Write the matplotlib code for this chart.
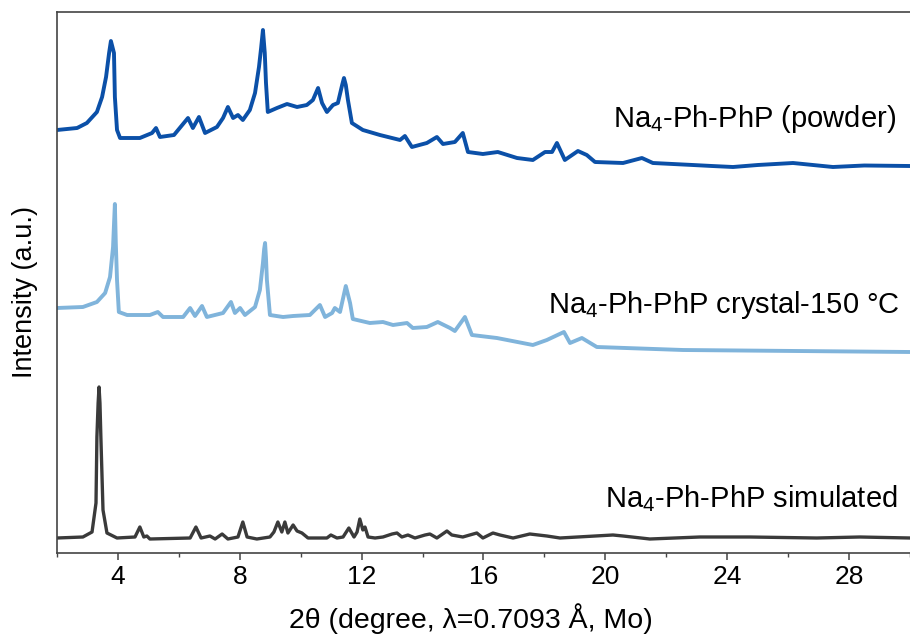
import matplotlib
matplotlib.use('Agg')
import matplotlib.pyplot as plt
from matplotlib.ticker import MultipleLocator

# 2theta (deg) and intensity (a.u.) for each pattern, offsets applied at plot time
powder_2theta = [2.00, 2.66, 2.98, 3.31, 3.48, 3.61, 3.71, 3.77, 3.87, 3.90, 3.97, 4.07, 4.72,
                 5.12, 5.25, 5.38, 5.84, 6.30, 6.46, 6.66, 6.86, 7.25, 7.45, 7.61, 7.78, 7.94,
                 8.10, 8.33, 8.50, 8.63, 8.70, 8.76, 8.82, 8.86, 8.92, 9.22, 9.55, 9.88, 10.20,
                 10.40, 10.57, 10.70, 10.86, 11.06, 11.22, 11.36, 11.42, 11.48, 11.55, 11.68,
                 12.04, 12.60, 13.26, 13.42, 13.65, 14.14, 14.47, 14.67, 15.06, 15.32, 15.49,
                 15.98, 16.47, 17.10, 17.62, 18.02, 18.25, 18.41, 18.67, 19.10, 19.39, 19.66,
                 20.58, 21.20, 21.56, 22.87, 23.50, 24.19, 25.00, 26.16, 27.47, 28.50, 30.00]
powder_int = [43, 45, 50, 61, 76, 96, 120, 132, 120, 76, 43, 35, 35,
              40, 45, 36, 38, 55, 45, 56, 40, 46, 55, 66, 55, 58,
              53, 63, 80, 106, 125, 143, 120, 90, 61, 65, 69, 66, 68,
              73, 85, 70, 61, 68, 70, 88, 95, 88, 73, 50,
              43, 38, 33, 37, 26, 30, 36, 29, 31, 40, 21,
              19, 21, 15, 13, 21, 21, 30, 13, 22, 18, 11,
              10, 15, 10, 8, 7, 6, 8, 10, 6, 7.5, 7]

crystal_2theta = [2.00, 2.85, 3.31, 3.58, 3.74, 3.84, 3.87, 3.90, 3.93, 3.97, 4.03, 4.30, 5.05,
                  5.31, 5.48, 6.14, 6.37, 6.53, 6.76, 6.92, 7.45, 7.71, 7.84, 8.01, 8.17, 8.50,
                  8.66, 8.76, 8.80, 8.83, 8.86, 8.89, 8.99, 9.42, 9.75, 10.30, 10.63, 10.80,
                  11.03, 11.12, 11.29, 11.48, 11.62, 11.71, 12.27, 12.70, 13.03, 13.49, 13.68,
                  14.14, 14.50, 14.90, 15.06, 15.39, 15.62, 16.44, 17.62, 18.08, 18.64, 18.84,
                  19.23, 19.72, 22.55, 30.00]
crystal_int = [45, 46, 51, 60, 76, 106, 128, 149, 110, 73, 41, 38, 38,
               41, 36, 36, 45, 37, 47, 36, 40, 51, 40, 45, 38, 46,
               63, 90, 104, 110, 95, 73, 38, 36, 37, 38, 48, 36,
               40, 45, 41, 67, 50, 34, 30, 31, 28, 30, 25,
               26, 31, 25, 22, 36, 18, 15, 8, 13, 21, 10,
               15, 6, 3, 1]

sim_2theta = [2.00, 2.85, 3.15, 3.28, 3.31, 3.35, 3.38, 3.41, 3.44, 3.51, 3.64, 3.97, 4.56,
              4.72, 4.85, 4.95, 5.05, 6.37, 6.56, 6.73, 7.02, 7.19, 7.42, 7.61, 7.94, 8.10,
              8.24, 8.56, 8.99, 9.12, 9.25, 9.38, 9.48, 9.58, 9.75, 9.88, 10.04, 10.24, 10.86,
              10.99, 11.19, 11.39, 11.58, 11.75, 11.85, 11.94, 12.04, 12.11, 12.21, 12.44,
              12.70, 13.00, 13.16, 13.32, 13.52, 13.75, 14.08, 14.24, 14.47, 14.80, 14.96,
              15.32, 15.78, 15.98, 16.31, 16.54, 16.97, 17.52, 18.08, 18.51, 20.25, 20.58,
              21.46, 23.10, 24.74, 26.94, 28.35, 30.00]
sim_int = [5, 6, 11, 40, 106, 140, 156, 140, 106, 33, 10, 5, 6,
           16, 6, 7, 4, 5, 16, 5, 7, 4, 9, 4, 6, 21,
           6, 4, 6, 11, 21, 11, 21, 10, 18, 12, 10, 5, 5,
           8, 5, 6, 15, 6, 11, 24, 13, 16, 6, 5,
           6, 9, 10, 6, 8, 5, 8, 9, 5, 12, 8,
           6, 10, 5, 10, 8, 5, 9, 7, 5, 8, 7,
           4, 6, 6, 5, 6, 5]

labels = ['Na$_4$-Ph-PhP (powder)', 'Na$_4$-Ph-PhP crystal-150 \u00b0C', 'Na$_4$-Ph-PhP simulated']
offsets = [380, 200, 10]
colors = ['#0b50a8', '#80b4db', '#3a3a3a']
widths = [2.8, 2.8, 2.4]


def main():
    plt.rcParams['font.family'] = ['Liberation Sans', 'DejaVu Sans']
    plt.rcParams['mathtext.default'] = 'regular'

    fig = plt.figure(figsize=(9.1, 6.43), dpi=100)
    ax = fig.add_axes([57 / 910, 90 / 643, 853 / 910, 541 / 643])

    series = [(powder_2theta, powder_int), (crystal_2theta, crystal_int), (sim_2theta, sim_int)]
    label_y = [426, 240, 46]
    label_x = [29.55, 29.67, 29.6]
    for (x, y), off, col, lw, lab, ly, lx in zip(series, offsets, colors, widths, labels, label_y, label_x):
        ax.plot(x, [v + off for v in y], color=col, lw=lw, solid_joinstyle='round')
        ax.text(lx, ly, lab, ha='right', va='baseline', fontsize=21, color='black')

    ax.set_xlim(2, 30)
    ax.set_ylim(0, 541)
    ax.xaxis.set_major_locator(MultipleLocator(4))
    ax.xaxis.set_minor_locator(MultipleLocator(2))
    ax.tick_params(axis='x', which='major', direction='out', length=5, width=1.1,
                   labelsize=19, pad=4, color='#444444')
    ax.tick_params(axis='x', which='minor', direction='out', length=3, width=1.0, color='#444444')
    ax.set_yticks([])
    ax.spines['right'].set_visible(False)
    for side in ['left', 'top', 'bottom']:
        ax.spines[side].set_linewidth(1.2)
        ax.spines[side].set_color('#444444')

    ax.set_xlabel('2\u03b8 (degree, \u03bb=0.7093 \u00c5, Mo)', fontsize=20.5)
    ax.xaxis.label.set_va('center')
    ax.xaxis.set_label_coords((471 - 57) / 853, (553 - 619) / 541)
    ax.set_ylabel('Intensity (a.u.)', fontsize=19.5)
    ax.yaxis.label.set_va('center')
    ax.yaxis.set_label_coords((25 - 57) / 853, (553 - 292) / 541)

    plt.savefig('out.png', dpi=100)


if __name__ == '__main__':
    main()
